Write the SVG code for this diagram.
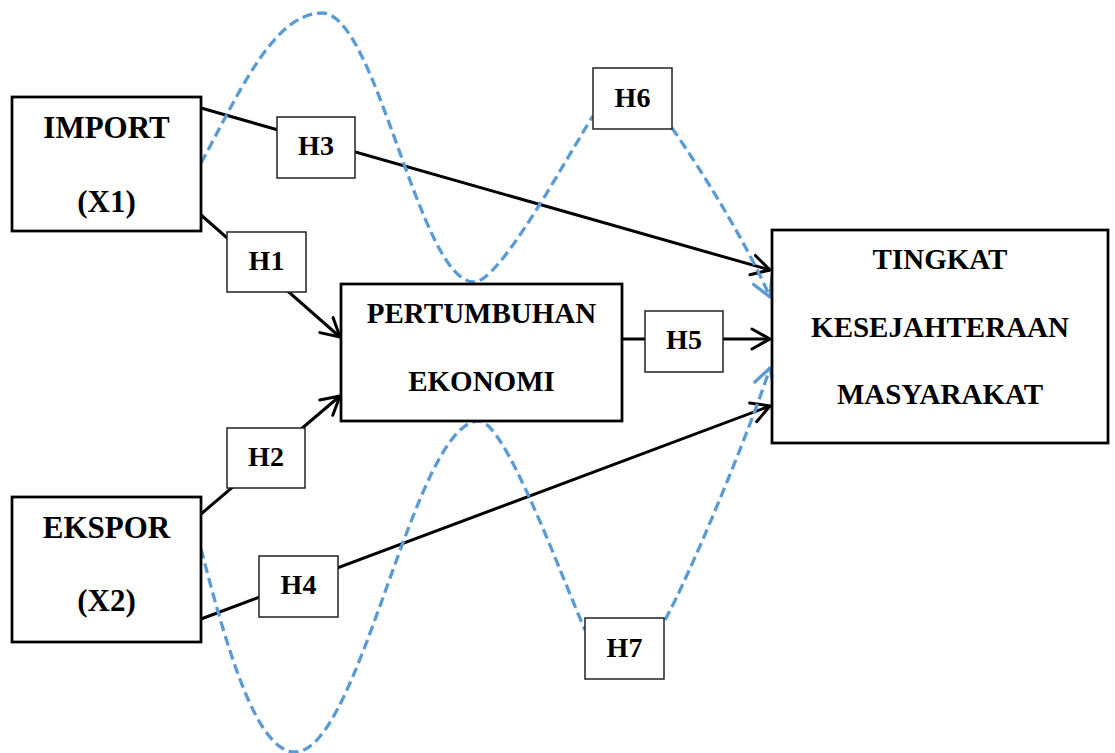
<svg xmlns="http://www.w3.org/2000/svg" width="1115" height="753" viewBox="0 0 1115 753">
<style>
.big{fill:#fff;stroke:#000;stroke-width:2.75}
.hb{fill:#fff;stroke:#222;stroke-width:1.5}
.t{font-weight:bold;fill:#000;text-anchor:middle}
.t31{font-size:31px}
.t29{font-size:29px}
.t28{font-size:28px}
.ln{fill:none;stroke:#000;stroke-width:3;marker-end:url(#ab)}
.cv{fill:none;stroke:#5B9BD5;stroke-width:3.3;stroke-dasharray:10 5;marker-end:url(#abb)}
</style>
<defs>
<marker id="ab" viewBox="0 0 20 20" markerWidth="20" markerHeight="20" refX="18" refY="10" orient="auto" markerUnits="userSpaceOnUse" style="overflow:visible">
<path d="M0,0 L18,10 L0,20" fill="none" stroke="#000" stroke-width="3" stroke-linecap="round" stroke-linejoin="round"/>
</marker>
<marker id="abb" viewBox="0 0 20 20" markerWidth="20" markerHeight="20" refX="18" refY="10" orient="auto" markerUnits="userSpaceOnUse" style="overflow:visible">
<path d="M0,0 L18,10 L0,20" fill="none" stroke="#5B9BD5" stroke-width="3.3" stroke-linecap="round" stroke-linejoin="round"/>
</marker>
</defs>
<rect width="1115" height="753" fill="#fff"/>
<g id="connectors">
<path class="ln" d="M201,108 L770,270"/>
<path class="ln" d="M201,215 L340,337"/>
<path class="ln" d="M201,514 L340,396"/>
<path class="ln" d="M201,619 L770,406"/>
<path class="ln" d="M622,339 L770,339"/>
<path class="cv" d="M201,163 C236,100 272,13 322,13 C377,13 419,282 474,282 C500,282 565,160 593,116 M672,128 C700,168 745,240 770,297"/>
<path class="cv" d="M201,549 C225,640 255,752 295,752 C360,752 414,421 479,421 C505,421 560,573 585,630 M665,620 C690,575 750,430 770,368"/>
</g>
<g font-family="'Liberation Serif', 'Times New Roman', Tinos, serif">
<g id="node-import">
<rect class="big" x="12" y="97" width="189" height="134"/>
<text class="t t31" x="106.5" y="138">IMPORT</text>
<text class="t t31" x="106.5" y="212">(X1)</text>
</g>
<g id="node-ekspor">
<rect class="big" x="12" y="497" width="189" height="145"/>
<text class="t t31" x="106.5" y="538">EKSPOR</text>
<text class="t t31" x="106.5" y="611">(X2)</text>
</g>
<g id="node-pertumbuhan">
<rect class="big" x="341" y="284" width="281" height="137"/>
<text class="t t29" x="481.5" y="323">PERTUMBUHAN</text>
<text class="t t29" x="481.5" y="391">EKONOMI</text>
</g>
<g id="node-tingkat">
<rect class="big" x="772" y="230" width="336" height="213"/>
<text class="t t29" x="940" y="269">TINGKAT</text>
<text class="t t29" x="940" y="337">KESEJAHTERAAN</text>
<text class="t t29" x="940" y="404">MASYARAKAT</text>
</g>
<g id="label-h1">
<rect class="hb" x="227" y="232" width="79" height="60"/>
<text class="t t28" x="266.5" y="270">H1</text>
</g>
<g id="label-h2">
<rect class="hb" x="227" y="428" width="78" height="60"/>
<text class="t t28" x="266" y="466">H2</text>
</g>
<g id="label-h3">
<rect class="hb" x="277" y="117" width="78" height="61"/>
<text class="t t28" x="316" y="155">H3</text>
</g>
<g id="label-h4">
<rect class="hb" x="259" y="556" width="79" height="61"/>
<text class="t t28" x="298.5" y="594">H4</text>
</g>
<g id="label-h5">
<rect class="hb" x="645" y="311" width="78" height="61"/>
<text class="t t28" x="684" y="349">H5</text>
</g>
<g id="label-h6">
<rect class="hb" x="593" y="68" width="79" height="61"/>
<text class="t t28" x="632.5" y="107">H6</text>
</g>
<g id="label-h7">
<rect class="hb" x="585" y="618" width="79" height="61"/>
<text class="t t28" x="624.5" y="657">H7</text>
</g>
</g>
</svg>
